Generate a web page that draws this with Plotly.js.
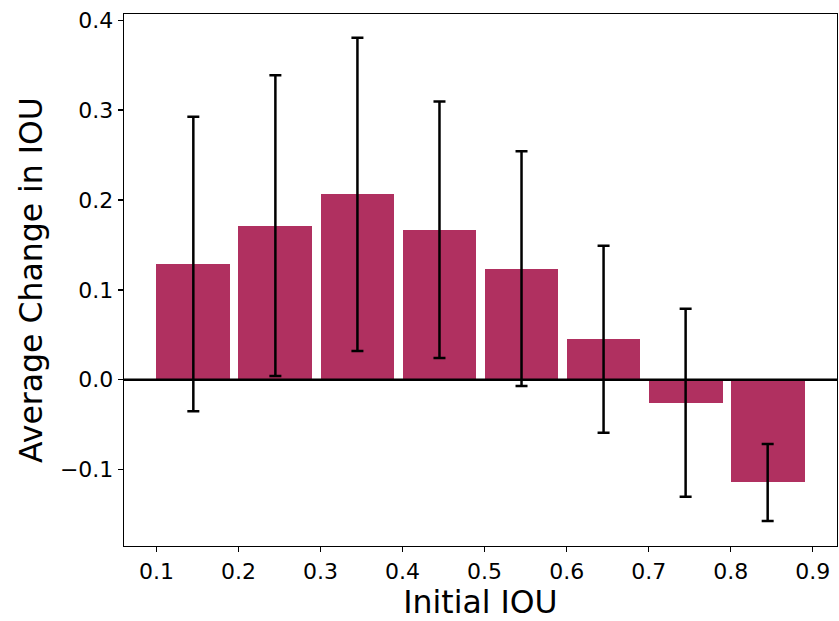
<!DOCTYPE html>
<html>
<head>
<meta charset="utf-8">
<script src="https://cdn.plot.ly/plotly-3.0.1.min.js"></script>
<style>html,body{margin:0;padding:0;background:#fff;}#chart{width:839px;height:621px;}</style>
</head>
<body>
<div id="chart"></div>
<script>
// Data
const binStarts = [0.1, 0.2, 0.3, 0.4, 0.5, 0.6, 0.7, 0.8];
const binWidth = 0.09;
const meanChange = [0.1288, 0.1714, 0.2062, 0.1669, 0.1236, 0.0451, -0.0256, -0.1142];
const errChange = [0.1639, 0.1673, 0.1743, 0.1428, 0.1306, 0.1040, 0.1045, 0.0428];
const xTicks = [0.1, 0.2, 0.3, 0.4, 0.5, 0.6, 0.7, 0.8, 0.9];
const yTicks = [-0.1, 0.0, 0.1, 0.2, 0.3, 0.4];

const centers = binStarts.map(s => s + binWidth / 2);
const barColor = '#b03060';

const bars = {
  type: 'bar',
  x: binStarts,
  y: meanChange,
  width: binStarts.map(() => binWidth),
  offset: 0,
  marker: {color: barColor, line: {width: 0}},
  hoverinfo: 'skip',
  showlegend: false
};
const errs = {
  type: 'scatter',
  mode: 'markers',
  x: centers,
  y: meanChange,
  marker: {size: 0.1, color: 'rgba(0,0,0,0)'},
  error_y: {type: 'data', array: errChange, visible: true, color: '#000', thickness: 2.5, width: 6},
  hoverinfo: 'skip',
  showlegend: false
};

const font = "DejaVu Sans, sans-serif";
const layout = {
  width: 839, height: 621,
  margin: {l: 124, r: 2, t: 14, b: 75},
  paper_bgcolor: '#fff', plot_bgcolor: '#fff',
  showlegend: false,
  bargap: 0,
  font: {family: font, color: '#000'},
  xaxis: {
    range: [0.0605, 0.9295],
    tickvals: xTicks,
    ticktext: xTicks.map(v => v.toFixed(1)),
    ticks: 'outside', ticklen: 5, tickwidth: 1.3, tickcolor: '#000',
    showline: true, linecolor: '#000', linewidth: 1.3, mirror: true,
    showgrid: false, zeroline: false,
    tickfont: {family: font, size: 22, color: '#000'},
    title: {text: 'Initial IOU', font: {family: font, size: 31.5, color: '#000'}, standoff: 6}
  },
  yaxis: {
    range: [-0.1849, 0.4069],
    tickvals: yTicks,
    ticktext: yTicks.map(v => (v < 0 ? '\u2212' : '') + Math.abs(v).toFixed(1)),
    ticks: 'outside', ticklen: 5, tickwidth: 1.3, tickcolor: '#000',
    showline: true, linecolor: '#000', linewidth: 1.3, mirror: true,
    showgrid: false, zeroline: false,
    tickfont: {family: font, size: 22, color: '#000'},
    title: {text: 'Average Change in IOU', font: {family: font, size: 31.5, color: '#000'}, standoff: 8}
  },
  shapes: [{
    type: 'line', xref: 'paper', x0: 0, x1: 1, yref: 'y', y0: 0, y1: 0,
    line: {color: '#000', width: 2.6}, layer: 'above'
  }]
};

Plotly.newPlot('chart', [bars, errs], layout, {displayModeBar: false, staticPlot: true});
</script>
</body>
</html>
